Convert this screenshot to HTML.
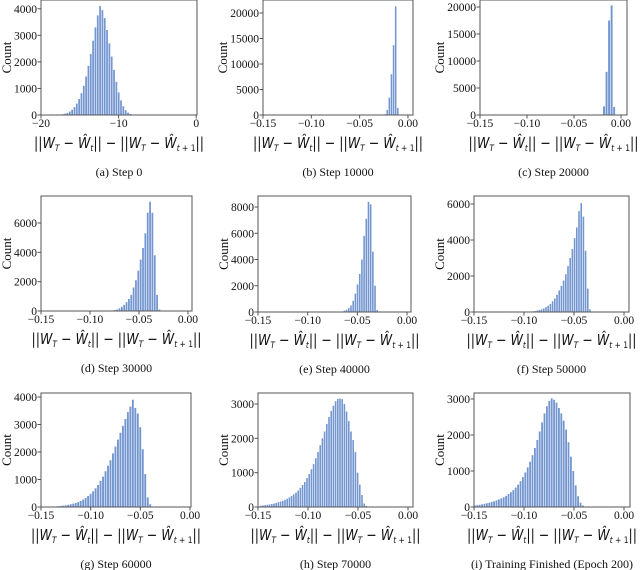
<!DOCTYPE html>
<html><head><meta charset="utf-8"><style>
html,body{margin:0;padding:0;background:#fff;}
svg{display:block;}
</style></head><body>
<svg id="fig" width="640" height="570" xmlns="http://www.w3.org/2000/svg"></svg>
<script>
// ---- data per panel ----
const captions = ["(a) Step 0","(b) Step 10000","(c) Step 20000","(d) Step 30000","(e) Step 40000","(f) Step 50000","(g) Step 60000","(h) Step 70000","(i) Training Finished (Epoch 200)"];
const binStarts = [-17.6,-0.0245,-0.0191,-0.078,-0.066,-0.092,-0.136,-0.148,-0.150];
const binWidths = [0.3,0.0022,0.0027,0.0024,0.0022,0.0022,0.0025,0.0022,0.0024];
const countsA = [15,30,50,80,130,200,300,430,600,820,1100,1450,1850,2300,2800,3300,3750,4100,3950,3650,3200,2700,2200,1700,1250,850,550,330,180,90,40,15];
const countsB = [150,1000,3400,8000,13700,21300,1400];
const countsC = [1600,8000,17500,20300,1500];
const countsD = [30,60,100,180,280,420,600,820,1100,1600,2100,2750,3500,4300,5300,6700,7450,6700,3800,1100,100];
const countsE = [40,100,180,300,500,850,1400,2100,2900,4000,5800,7100,8400,8200,4600,2000,150];
const countsF = [30,50,80,110,150,200,270,350,450,600,750,950,1200,1450,1750,2100,2550,3000,3500,4100,4700,5600,6050,5300,3400,1300,150];
const countsG = [20,30,40,50,60,80,100,120,150,180,220,270,330,400,480,570,680,800,950,1100,1300,1500,1700,1950,2200,2450,2700,2950,3200,3450,3650,3900,3600,3400,2900,2100,1200,350,100];
const countsH = [40,45,55,65,75,85,100,120,140,160,180,210,240,280,320,370,420,480,560,640,730,840,960,1100,1250,1420,1600,1800,2000,2200,2420,2620,2800,2950,3080,3150,3160,3140,3000,2780,2500,2200,1950,1600,1000,650,350,100,30];
const countsI = [40,50,60,75,90,105,120,140,160,185,210,240,270,310,360,410,470,540,620,720,830,960,1100,1260,1440,1640,1860,2100,2350,2600,2800,2950,3020,2980,2900,2750,2600,2400,2150,1800,1400,1000,600,300,120,40];
const allCounts = [countsA,countsB,countsC,countsD,countsE,countsF,countsG,countsH,countsI];
const xMins = [-20,-0.15,-0.15,-0.15,-0.15,-0.15,-0.15,-0.15,-0.15];
const xMaxs = [0.1,0.0052,0.0064,0.0041,0.004,0.005,0.001,0.005,0.006];
const yMaxs = [4330,22550,21300,7840,8840,6444,4145,3320,3167];
const xTicksA = [-20,-10,0];
const xTickLabelsA = ["\u221220","\u221210","0"];
const xTicks = [-0.15,-0.10,-0.05,0.00];
const xTickLabels = ["\u22120.15","\u22120.10","\u22120.05","0.00"];
const yTickSets = [[0,1000,2000,3000,4000],[0,5000,10000,15000,20000],[0,5000,10000,15000,20000],[0,2000,4000,6000],[0,2000,4000,6000,8000],[0,2000,4000,6000],[0,1000,2000,3000,4000],[0,1000,2000,3000],[0,1000,2000,3000]];
// ---- layout ----
const boxes = [[41,197,0,115],[263,413,0,115],[480,627,0,115],[41,192,196,311],[258,411,196,312],[474,629,196,312],[41,191,393,507],[258,413,393,507],[474,630,393,507]];
const NS="http://www.w3.org/2000/svg";
const svg=document.getElementById('fig');
function mk(tag,attrs,parent){const e=document.createElementNS(NS,tag);for(const k in attrs)e.setAttribute(k,attrs[k]);(parent||svg).appendChild(e);return e;}
const serif='"Liberation Serif", serif';
for(let p=0;p<9;p++){
  const [L,R,T,B]=boxes[p];
  const g=mk('g',{});
  
  
  const x0=xMins[p],x1=xMaxs[p],ym=yMaxs[p];
  const xs=v=>L+(v-x0)/(x1-x0)*(R-L);
  const ys=v=>B-v/ym*(B-T);
  const counts=allCounts[p];
  counts.forEach((c,i)=>{
    const a=xs(binStarts[p]+i*binWidths[p]), b=xs(binStarts[p]+(i+1)*binWidths[p]);
    const r=mk('rect',{x:a,y:ys(c),width:Math.max(0.4,b-a-0.6),height:B-ys(c),fill:'#7395d0'},g);
    
    
  });
  const fr=mk('rect',{x:L,y:T,width:R-L,height:B-T,fill:'none',stroke:'#555','stroke-width':1},g);
  
  
  const xt=p===0?xTicksA:xTicks, xl=p===0?xTickLabelsA:xTickLabels;
  xt.forEach((v,i)=>{
    const x=xs(v);
    mk('line',{x1:x,x2:x,y1:B,y2:B+3.5,stroke:'#555'},g);
    const t=mk('text',{x:x,y:B+12,'text-anchor':'middle','font-family':serif,'font-size':11.5,fill:'#111'},g);
    t.textContent=xl[i];
    
    
  });
  let maxw=0;
  yTickSets[p].forEach(v=>{
    const y=ys(v);
    mk('line',{x1:L-3.5,x2:L,y1:y,y2:y,stroke:'#555'},g);
    const t=mk('text',{x:L-4,y:y+4,'text-anchor':'end','font-family':serif,'font-size':11.5,fill:'#111'},g);
    t.textContent=String(v);
    
    
    maxw=Math.max(maxw,String(v).length*5.8);
  });
  const cx=L-4-maxw-3, cy=(T+B)/2;
  const yl=mk('text',{x:cx,y:cy,transform:`rotate(-90 ${cx} ${cy})`,'text-anchor':'middle','font-family':serif,'font-size':13,fill:'#111'},g);
  yl.textContent='Count';
  
  
  const mid=(L+R)/2;
  const xlab=mk('text',{x:mid,y:B+33,'text-anchor':'middle','font-family':'"DejaVu Sans", sans-serif','font-size':15,fill:'#111',textLength:170,lengthAdjust:'spacingAndGlyphs'},g);
  xlab.innerHTML='||<tspan font-style="italic">W</tspan><tspan font-size="9" font-style="italic" dy="3">T</tspan><tspan dy="-3"> \u2212 </tspan><tspan font-style="italic">W\u0302</tspan><tspan font-size="9" font-style="italic" dy="3">t</tspan><tspan dy="-3">|| \u2212 ||</tspan><tspan font-style="italic">W</tspan><tspan font-size="9" font-style="italic" dy="3">T</tspan><tspan dy="-3"> \u2212 </tspan><tspan font-style="italic">W\u0302</tspan><tspan font-size="9" dy="3"><tspan font-style="italic">t</tspan> + 1</tspan><tspan dy="-3">||</tspan>';
  
  
  const cap=mk('text',{x:mid,y:B+61,'text-anchor':'middle','font-family':serif,'font-size':12,fill:'#111'},g);
  cap.textContent=captions[p];
  
  
}
</script>
</body></html>
